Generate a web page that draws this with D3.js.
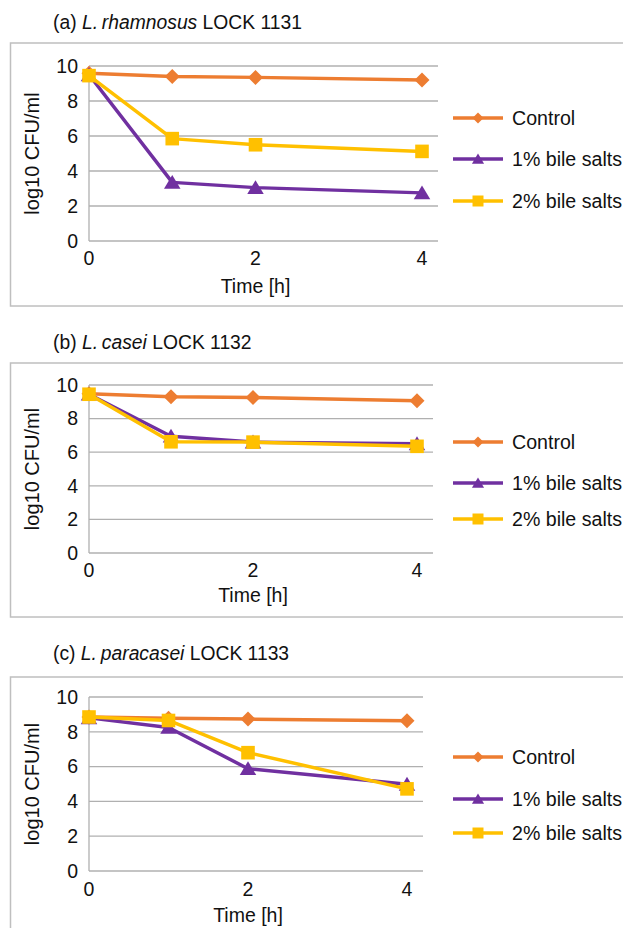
<!DOCTYPE html>
<meta charset="utf-8">
<style>
body { margin: 0; background: #fff; }
svg, text { font-family: 'Liberation Sans', Arial, sans-serif; }
</style>
<body>
<script src="https://d3js.org/d3.v7.min.js"></script>
<script>

// data
var hours = [0, 1, 2, 4];
var seriesNames = ["Control", "1% bile salts", "2% bile salts"];
var seriesColors = ["#ED7D31", "#7030A0", "#FFC000"];
var yTicks = [0, 2, 4, 6, 8, 10];
var xTicks = [0, 2, 4];

var rhamnosusControl = [9.58, 9.4, 9.35, 9.2];
var rhamnosusBile1   = [9.5, 3.35, 3.05, 2.75];
var rhamnosusBile2   = [9.45, 5.85, 5.5, 5.12];

var caseiControl = [9.48, 9.3, 9.25, 9.06];
var caseiBile1   = [9.45, 6.95, 6.6, 6.5];
var caseiBile2   = [9.45, 6.62, 6.6, 6.35];

var paracaseiControl = [8.85, 8.78, 8.73, 8.63];
var paracaseiBile1   = [8.8, 8.25, 5.88, 4.98];
var paracaseiBile2   = [8.85, 8.65, 6.8, 4.72];

// panel layout
var panels = [
  {letter: "(a)", species: "rhamnosus", strain: "LOCK 1131",
   series: [rhamnosusControl, rhamnosusBile1, rhamnosusBile2],
   titleY: 22, frameTop: 43, frameBottom: 306, x0: 89, x4: 422, gridRight: 438,
   yTop: 66, yBottom: 241, tickY: 258, labelY: 286, legendY: [118, 159, 201]},
  {letter: "(b)", species: "casei", strain: "LOCK 1132",
   series: [caseiControl, caseiBile1, caseiBile2],
   titleY: 342, frameTop: 363, frameBottom: 617, x0: 89, x4: 417, gridRight: 433,
   yTop: 385, yBottom: 553, tickY: 570, labelY: 595, legendY: [442, 483, 519]},
  {letter: "(c)", species: "paracasei", strain: "LOCK 1133",
   series: [paracaseiControl, paracaseiBile1, paracaseiBile2],
   titleY: 653, frameTop: 677, frameBottom: 960, x0: 89, x4: 407, gridRight: 423,
   yTop: 697, yBottom: 871, tickY: 889, labelY: 915, legendY: [757, 799, 833]}
];

var svg = d3.select("body").append("svg")
    .attr("width", 623)
    .attr("height", 928);

function marker(i, r) {
  // diamond, triangle, square
  if (i == 0) return "M0," + (-r) + "L" + r + ",0L0," + r + "L" + (-r) + ",0Z";
  if (i == 1) return "M0," + (-r) + "L" + (r*1.1) + "," + (r*0.85) + "L" + (-r*1.1) + "," + (r*0.85) + "Z";
  return "M" + (-r) + "," + (-r) + "H" + r + "V" + r + "H" + (-r) + "Z";
}

panels.forEach(function(p) {
  var g = svg.append("g");

  var x = d3.scaleLinear().domain([0, 4]).range([p.x0, p.x4]);
  var y = d3.scaleLinear().domain([0, 10]).range([p.yBottom, p.yTop]);

  // title
  var t = g.append("text")
      .attr("x", 53)
      .attr("y", p.titleY)
      .attr("dy", "0.35em")
      .style("font-size", "19.3px")
      .attr("fill", "#111");
  t.append("tspan").text(p.letter + " ");
  t.append("tspan").style("font-style", "italic").text("L.\u2009" + p.species);
  t.append("tspan").text(" " + p.strain);

  // frame
  g.append("rect")
      .attr("x", 10.5).attr("y", p.frameTop)
      .attr("width", 650).attr("height", p.frameBottom - p.frameTop)
      .attr("fill", "none").attr("stroke", "#bfbfbf").attr("stroke-width", 1.5);

  // gridlines
  g.selectAll(".grid").data(yTicks).enter().append("line")
      .attr("x1", p.x0).attr("x2", p.gridRight)
      .attr("y1", function(d) { return y(d); })
      .attr("y2", function(d) { return y(d); })
      .attr("stroke", "#b0b0b0").attr("stroke-width", 1.3);

  g.append("line")
      .attr("x1", p.x0).attr("x2", p.x0)
      .attr("y1", y(10)).attr("y2", y(0))
      .attr("stroke", "#b0b0b0").attr("stroke-width", 1.3);

  // tick labels
  g.selectAll(".ytick").data(yTicks).enter().append("text")
      .attr("x", 78)
      .attr("y", function(d) { return y(d); })
      .attr("dy", "0.35em")
      .attr("text-anchor", "end")
      .style("font-size", "19.5px")
      .attr("fill", "#111")
      .text(function(d) { return d; });

  g.selectAll(".xtick").data(xTicks).enter().append("text")
      .attr("x", function(d) { return x(d); })
      .attr("y", p.tickY)
      .attr("dy", "0.35em")
      .attr("text-anchor", "middle")
      .style("font-size", "19.5px")
      .attr("fill", "#111")
      .text(function(d) { return d; });

  g.append("text")
      .attr("x", x(2))
      .attr("y", p.labelY)
      .attr("dy", "0.35em")
      .attr("text-anchor", "middle")
      .style("font-size", "19.5px")
      .attr("fill", "#111")
      .text("Time [h]");

  g.append("text")
      .attr("transform", "translate(32," + ((p.yTop + p.yBottom) / 2) + ") rotate(-90)")
      .attr("dy", "0.35em")
      .attr("text-anchor", "middle")
      .style("font-size", "20px")
      .attr("fill", "#111")
      .text("log10 CFU/ml");

  var line = d3.line()
      .x(function(d, i) { return x(hours[i]); })
      .y(function(d) { return y(d); });

  p.series.forEach(function(s, k) {
    g.append("path")
        .datum(s)
        .attr("d", line)
        .attr("fill", "none")
        .attr("stroke", seriesColors[k])
        .attr("stroke-width", 3.5)
        .attr("stroke-linejoin", "round");

    g.selectAll(".m" + k).data(s).enter().append("path")
        .attr("transform", function(d, i) { return "translate(" + x(hours[i]) + "," + y(d) + ")"; })
        .attr("d", marker(k, k == 2 ? 6.8 : 7.5))
        .attr("fill", seriesColors[k]);
  });

  // legend
  seriesNames.forEach(function(name, k) {
    var ly = p.legendY[k];
    g.append("line")
        .attr("x1", 453).attr("x2", 503)
        .attr("y1", ly).attr("y2", ly)
        .attr("stroke", seriesColors[k]).attr("stroke-width", 3.5);
    g.append("path")
        .attr("transform", "translate(478," + ly + ")")
        .attr("d", marker(k, 5.5))
        .attr("fill", seriesColors[k]);
    g.append("text")
        .attr("x", 512).attr("y", ly)
        .attr("dy", "0.35em")
        .style("font-size", "19.6px")
        .attr("fill", "#111")
        .text(name);
  });
});

</script>
</body>
